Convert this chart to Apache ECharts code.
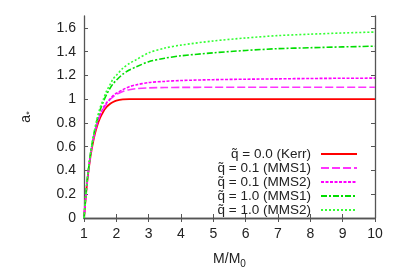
<!DOCTYPE html>
<html><head><meta charset="utf-8">
<script src="https://cdn.jsdelivr.net/npm/echarts@6/dist/echarts.min.js"></script>
<style>html,body{margin:0;padding:0;background:#fff}#c{width:396px;height:277px}</style>
</head><body><div id="c"></div>
<script>
const massRatio = [1, 1.05, 1.1, 1.2, 1.3, 1.4, 1.5, 1.6, 1.7, 1.8, 1.9, 2.0, 2.2, 2.4, 2.6, 3, 3.5, 4, 5, 6, 7, 8, 9, 10];
const kerr      = [0, 0.16, 0.306, 0.517, 0.665, 0.770, 0.844, 0.897, 0.934, 0.959, 0.976, 0.988, 0.998, 1.0, 1.0, 1.0, 1.0, 1.0, 1.0, 1.0, 1.0, 1.0, 1.0, 1.0];
const q01mms1   = [0, 0.165, 0.31, 0.53, 0.68, 0.79, 0.87, 0.92, 0.96, 0.995, 1.02, 1.04, 1.065, 1.08, 1.088, 1.095, 1.098, 1.099, 1.1, 1.1, 1.1, 1.1, 1.1, 1.1];
const q01mms2   = [0, 0.165, 0.31, 0.53, 0.68, 0.79, 0.87, 0.93, 0.97, 1.0, 1.03, 1.05, 1.08, 1.105, 1.12, 1.14, 1.15, 1.157, 1.164, 1.168, 1.171, 1.174, 1.176, 1.177];
const q10mms1   = [0, 0.17, 0.32, 0.54, 0.70, 0.82, 0.91, 0.98, 1.04, 1.09, 1.13, 1.16, 1.21, 1.245, 1.27, 1.315, 1.345, 1.365, 1.39, 1.41, 1.425, 1.433, 1.44, 1.446];
const q10mms2   = [0, 0.17, 0.32, 0.54, 0.70, 0.83, 0.93, 1.0, 1.07, 1.12, 1.17, 1.20, 1.26, 1.30, 1.33, 1.39, 1.43, 1.455, 1.49, 1.515, 1.535, 1.547, 1.557, 1.565];
const seriesNames = ['q\u0303 = 0.0 (Kerr)', 'q\u0303 = 0.1 (MMS1)', 'q\u0303 = 0.1 (MMS2)', 'q\u0303 = 1.0 (MMS1)', 'q\u0303 = 1.0 (MMS2)'];
const xTicks = [1, 2, 3, 4, 5, 6, 7, 8, 9, 10];
const yTicks = [0, 0.2, 0.4, 0.6, 0.8, 1, 1.2, 1.4, 1.6];

const FONT = 'Liberation Sans';
const axisCol = '#555';
const txtCol = '#222';
function pairs(ys){ return massRatio.map((m,i)=>[m, ys[i]]); }
function mk(name, ys, color, dash, width){
  return {name, type:'line', data:pairs(ys), symbol:'none', smooth:0.3, z:3,
    lineStyle:{color, width:width||1.6, type:dash}, itemStyle:{color}};
}
const chart = echarts.init(document.getElementById('c'), null, {renderer:'canvas'});
const baseAxis = {axisLine:{show:true,lineStyle:{color:axisCol,width:1.3}}, splitLine:{show:false},
  axisTick:{inside:true,length:4,lineStyle:{color:axisCol,width:1}}};
chart.setOption({
  animation:false,
  grid:{left:84, right:21, top:16, bottom:59},
  legend:{orient:'vertical', right:33, top:142, align:'right', itemWidth:36, itemHeight:8, itemGap:0,
    itemStyle:{color:'transparent', borderColor:'transparent', borderWidth:0},
    textStyle:{fontFamily:FONT, fontSize:13.5, lineHeight:12, color:txtCol, padding:[0,5,0,0]},
    data:seriesNames},
  xAxis:[
    Object.assign({type:'value', min:1, max:10, interval:1, position:'bottom',
      name:'M/M{s|0}', nameLocation:'middle', nameGap:32,
      nameTextStyle:{fontFamily:FONT, fontSize:14, color:txtCol, rich:{s:{fontFamily:FONT,fontSize:10,color:txtCol,padding:[9,0,0,0]}}},
      axisLabel:{fontFamily:FONT, fontSize:14, color:txtCol, margin:9, formatter:v=>xTicks.includes(v)?String(v):''}}, baseAxis),
    Object.assign({type:'value', min:1, max:10, interval:1, position:'top', axisLabel:{show:false}}, baseAxis)
  ],
  yAxis:[
    Object.assign({type:'value', min:0, max:1.7, interval:0.2, position:'left',
      name:'a{s|*}', nameLocation:'middle', nameGap:50, nameRotate:90,
      nameTextStyle:{fontFamily:FONT, fontSize:14, color:txtCol, rich:{s:{fontFamily:FONT,fontSize:9,color:txtCol,padding:[7,0,0,0]}}},
      axisLabel:{fontFamily:FONT, fontSize:14, color:txtCol, margin:8, showMaxLabel:false,
        formatter:v=>{const r=Math.round(v*10)/10; return yTicks.some(t=>Math.abs(t-r)<1e-9)?String(r):'';}}}, baseAxis),
    Object.assign({type:'value', min:0, max:1.7, interval:0.2, position:'right', axisLabel:{show:false}}, baseAxis)
  ],
  series:[
    mk(seriesNames[0], kerr, '#ff0000', 'solid', 1.8),
    mk(seriesNames[1], q01mms1, '#ff33ff', [8,3], 1.6),
    mk(seriesNames[2], q01mms2, '#ff00ff', [3,1.5], 1.6),
    mk(seriesNames[3], q10mms1, '#00dd00', [6,2,2,2], 1.6),
    mk(seriesNames[4], q10mms2, '#33ff33', [2,2], 1.6)
  ]
});
</script></body></html>
